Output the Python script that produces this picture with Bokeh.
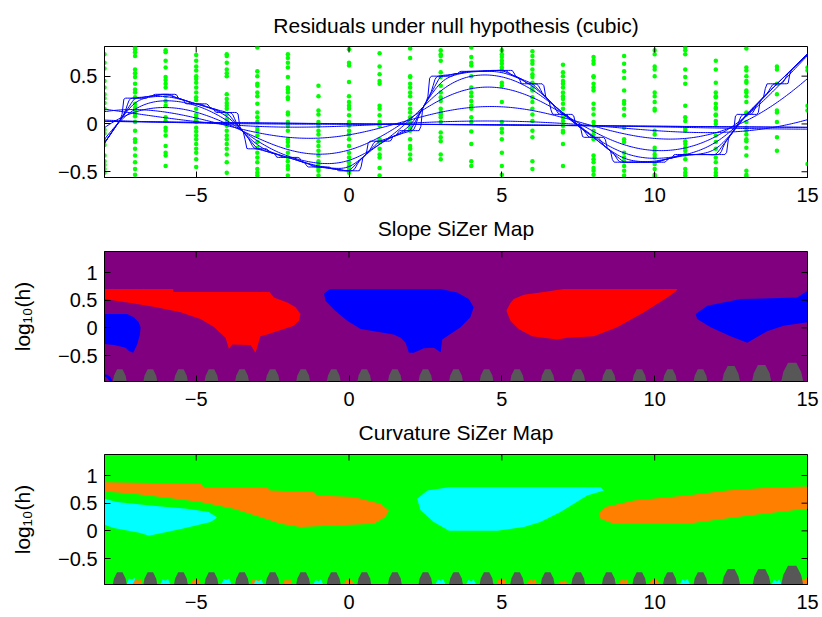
import numpy as np
from bokeh.plotting import figure
from bokeh.layouts import column
from bokeh.models import FixedTicker, CustomJSTickFormatter, Range1d, Title
from bokeh.embed import file_html
from bokeh.resources import INLINE

# ---------------- data ----------------
x_columns = list(range(-8, 16))

res_m8 = [0.73, 0.64, 0.58, 0.45, 0.38, 0.31, 0.27, 0.22, 0.16, -0.06, -0.10, -0.17, -0.22, -0.33, -0.39, -0.43, -0.47, -0.51]
res_m7 = [0.80, 0.78, 0.75, 0.71, 0.57, 0.53, 0.49, 0.42, 0.36, 0.33, 0.28, 0.21, 0.17, 0.14, 0.11, 0.08, 0.02, -0.07, -0.16, -0.19, -0.26, -0.33, -0.40, -0.47, -0.53]
res_m6 = [0.77, 0.75, 0.66, 0.59, 0.49, 0.46, 0.42, 0.38, 0.29, 0.24, 0.19, 0.07, 0.03, -0.04, -0.07, -0.12, -0.23, -0.30, -0.33, -0.44]
res_m5 = [0.72, 0.66, 0.60, 0.56, 0.50, 0.47, 0.43, 0.38, 0.33, 0.28, 0.25, 0.16, 0.10, 0.07, 0.04, 0.02, -0.04, -0.08, -0.12, -0.16, -0.21, -0.26, -0.30, -0.37, -0.45]
res_m4 = [0.73, 0.71, 0.64, 0.57, 0.53, 0.50, 0.31, 0.26, 0.22, 0.19, 0.16, 0.10, 0.05, 0.02, -0.02, -0.07, -0.12, -0.16, -0.21, -0.26, -0.32, -0.40, -0.51]
res_m3 = [0.80, 0.55, 0.50, 0.42, 0.40, 0.33, 0.29, 0.21, 0.12, 0.07, 0.02, -0.04, -0.07, -0.12, -0.19, -0.25, -0.30, -0.35, -0.40, -0.47, -0.51, -0.54]
res_m2 = [0.73, 0.69, 0.64, 0.59, 0.49, 0.38, 0.36, 0.33, 0.28, 0.26, 0.12, 0.10, 0.02, -0.02, -0.07, -0.16, -0.19, -0.23, -0.30, -0.35, -0.39, -0.44, -0.47, -0.54]
res_m1 = [0.40, 0.29, 0.14, 0.10, 0.02, -0.02, -0.07, -0.11, -0.18, -0.23, -0.28, -0.33, -0.39, -0.42, -0.46, -0.49, -0.54]
res_0 = [0.78, 0.64, 0.61, 0.44, 0.29, 0.23, 0.19, 0.16, 0.09, 0.02, -0.02, -0.07, -0.11, -0.16, -0.23, -0.30, -0.35, -0.40, -0.44, -0.47, -0.51]
res_p1 = [0.74, 0.60, 0.52, 0.45, 0.42, 0.19, 0.16, 0.09, 0.02, -0.02, -0.16, -0.19, -0.26, -0.32, -0.35, -0.46, -0.54]
res_p2 = [0.79, 0.69, 0.50, 0.49, 0.42, 0.38, 0.33, 0.29, 0.21, 0.16, 0.12, 0.07, 0.02, -0.02, -0.05, -0.07, -0.16, -0.23, -0.26, -0.32, -0.37]
res_p3 = [0.77, 0.73, 0.71, 0.66, 0.54, 0.49, 0.40, 0.33, 0.28, 0.24, 0.16, 0.12, 0.10, 0.07, 0.02, -0.09, -0.14, -0.18, -0.32, -0.37]
res_p4 = [0.80, 0.70, 0.64, 0.61, 0.50, 0.38, 0.33, 0.29, 0.24, 0.19, 0.16, 0.07, 0.02, -0.08, -0.21, -0.39, -0.44]
res_p5 = [0.77, 0.73, 0.70, 0.66, 0.63, 0.59, 0.56, 0.43, 0.40, 0.23, 0.02, -0.05, -0.09, -0.16, -0.30, -0.44, -0.53]
res_p6 = [0.76, 0.71, 0.66, 0.63, 0.57, 0.52, 0.49, 0.43, 0.38, 0.35, 0.28, 0.23, 0.16, 0.10, 0.03, -0.07, -0.14, -0.39, -0.47]
res_p7 = [0.62, 0.54, 0.50, 0.45, 0.42, 0.38, 0.33, 0.29, 0.26, 0.21, 0.16, 0.10, 0.07, 0.03, -0.02, -0.07, -0.09, -0.21, -0.44]
res_p8 = [0.70, 0.66, 0.63, 0.50, 0.49, 0.42, 0.38, 0.35, 0.21, 0.16, 0.10, 0.02, -0.02, -0.07, -0.11, -0.16, -0.33, -0.37, -0.40, -0.46, -0.49, -0.53]
res_p9 = [0.71, 0.63, 0.55, 0.48, 0.35, 0.24, 0.21, 0.16, 0.09, -0.04, -0.16, -0.19, -0.30, -0.35, -0.39, -0.44, -0.49, -0.54]
res_p10 = [0.77, 0.73, 0.60, 0.57, 0.50, 0.33, 0.29, 0.23, 0.16, 0.14, -0.07, -0.11, -0.25, -0.28, -0.32, -0.35, -0.42, -0.47, -0.53, -0.55]
res_p11 = [0.80, 0.77, 0.73, 0.57, 0.49, 0.42, 0.19, 0.07, 0.03, -0.05, -0.07, -0.18, -0.21, -0.25, -0.28, -0.32, -0.37, -0.47, -0.51, -0.54]
res_p12 = [0.66, 0.57, 0.43, 0.33, 0.29, 0.28, 0.21, 0.17, 0.16, 0.10, 0.09, 0.03, 0.00, -0.12, -0.19, -0.26, -0.35, -0.40, -0.47, -0.51, -0.54]
res_p13 = [0.79, 0.59, 0.56, 0.50, 0.45, 0.43, 0.35, 0.33, 0.29, 0.23, 0.12, 0.10, 0.02, -0.04, -0.07, -0.11, -0.16, -0.18, -0.25, -0.33, -0.49, -0.53, -0.55]
res_p14 = [0.60, 0.57, 0.42, 0.31, 0.14, 0.12, 0.02, -0.14, -0.28]
res_p15 = [0.59, 0.56, 0.19, 0.14, -0.42]

residual_columns = [res_m8, res_m7, res_m6, res_m5, res_m4, res_m3, res_m2, res_m1, res_0,
                    res_p1, res_p2, res_p3, res_p4, res_p5, res_p6, res_p7, res_p8, res_p9,
                    res_p10, res_p11, res_p12, res_p13, res_p14, res_p15]

# column means (levels of the least-smoothed curve)
step_means = [-0.20, 0.27, 0.31, 0.21, 0.12, -0.26, -0.35, -0.45, -0.49, -0.18, -0.07, 0.50,
              0.55, 0.56, 0.42, 0.10, -0.14, -0.40, -0.40, -0.32, -0.32, 0.10, 0.42, 0.73]
log10_h_min, log10_h_max, n_bandwidths = -0.94, 1.36, 11
n_grid_bins = 401

x_ticks = [-5, 0, 5, 10, 15]
top_y_ticks = [-0.5, 0, 0.5]
map_y_ticks = [-0.5, 0, 0.5, 1]

titles = ["Residuals under null hypothesis (cubic)", "Slope SiZer Map", "Curvature SiZer Map"]
y_label = "log\u2081\u2080(h)"

# Slope SiZer map regions (x, log10 h)
slope_red_a_x = [-8, -5.75, -5.75, -2.6, -2.46, -2.02, -1.75, -1.59, -1.64, -1.81, -2.13, -2.68, -2.9, -3.06, -3.22, -3.82, -3.93, -4.04, -4.43, -4.86, -5.51, -6.39, -7.04, -8]
slope_red_a_y = [0.70, 0.70, 0.65, 0.65, 0.55, 0.46, 0.37, 0.25, 0.13, 0.04, -0.02, -0.12, -0.15, -0.45, -0.31, -0.30, -0.38, -0.18, 0.02, 0.16, 0.28, 0.38, 0.44, 0.52]
slope_blue_a_x = [-8, -7.26, -7.04, -6.88, -6.82, -6.84, -6.93, -7.06, -7.2, -7.31, -7.69, -8]
slope_blue_a_y = [0.25, 0.25, 0.19, 0.10, 0.01, -0.12, -0.30, -0.45, -0.42, -0.36, -0.31, -0.29]
slope_blue_b_x = [-0.82, -0.62, 3.0, 3.54, 3.92, 4.08, 3.97, 3.65, 3.05, 3.0, 2.77, 2.45, 2.12, 1.96, 1.85, 1.69, 1.46, 0.38, -0.06, -0.5, -0.77]
slope_blue_b_y = [0.62, 0.70, 0.70, 0.64, 0.52, 0.37, 0.19, 0.01, -0.21, -0.44, -0.36, -0.37, -0.45, -0.45, -0.27, -0.18, -0.12, -0.02, 0.13, 0.33, 0.49]
slope_red_b_x = [5.15, 5.28, 5.39, 5.72, 6.26, 7.03, 10.74, 10.7, 10.41, 9.65, 8.77, 8.01, 7.14, 6.81, 5.99, 5.55, 5.28]
slope_red_b_y = [0.31, 0.45, 0.52, 0.60, 0.64, 0.70, 0.70, 0.66, 0.55, 0.28, 0.01, -0.15, -0.18, -0.21, -0.15, -0.02, 0.13]
slope_blue_c_x = [11.34, 11.72, 12.81, 14.66, 15, 15, 14.22, 13.68, 13.03, 12.48, 11.83, 11.39]
slope_blue_c_y = [0.25, 0.40, 0.52, 0.55, 0.67, 0.10, 0.04, -0.06, -0.27, -0.15, 0.01, 0.16]
slope_blue_corner_x = [-8, -7.9, -7.8, -7.74, -7.82, -7.92, -8]
slope_blue_corner_y = [-0.84, -0.85, -0.89, -0.97, -0.97, -0.9, -0.88]

# Curvature SiZer map regions
curv_orange_a_x = [-8, -4.86, -4.75, -2.68, -2.57, -1.15, -1.04, 0.16, 0.6, 1.03, 1.30, 1.19, 0.81, -1.59, -2.24, -2.90, -3.77, -4.86, -5.95, -7.04, -8]
curv_orange_a_y = [0.88, 0.85, 0.79, 0.79, 0.73, 0.70, 0.64, 0.61, 0.55, 0.49, 0.37, 0.25, 0.13, 0.07, 0.13, 0.25, 0.40, 0.52, 0.60, 0.67, 0.71]
curv_cyan_a_x = [-8, -7.59, -6.5, -5.3, -4.59, -4.31, -4.53, -5.46, -6.55, -6.82, -7.70, -8]
curv_cyan_a_y = [0.58, 0.52, 0.46, 0.40, 0.34, 0.24, 0.16, 0.04, -0.09, -0.04, 0.05, 0.11]
curv_cyan_b_x = [2.23, 2.56, 3.27, 8.23, 8.34, 7.79, 6.92, 6.26, 5.72, 4.85, 3.27, 2.77, 2.34]
curv_cyan_b_y = [0.58, 0.73, 0.79, 0.79, 0.73, 0.64, 0.34, 0.16, 0.07, 0.0, 0.0, 0.16, 0.37]
curv_orange_b_x = [8.17, 8.39, 9.32, 11.06, 12.37, 14.01, 15, 15, 14.55, 13.14, 11.06, 8.67, 8.23]
curv_orange_b_y = [0.31, 0.43, 0.55, 0.64, 0.73, 0.79, 0.80, 0.40, 0.37, 0.28, 0.13, 0.13, 0.22]

# small significant specks along the bottom of the curvature map
curv_speck_x = [-7.1, -6.9, -6.0, -5.0, -4.0, -3.05, -2.95, -2.0, -1.0, 0.0, 3.0, 4.0, 5.0, 6.0, 7.0, 9.0, 10.0, 11.0, 14.0, 14.9]
curv_speck_top = [-0.88, -0.9, -0.9, -0.9, -0.89, -0.9, -0.91, -0.9, -0.91, -0.9, -0.9, -0.91, -0.89, -0.9, -0.92, -0.9, -0.89, -0.9, -0.91, -0.88]
curv_speck_kind = ["cyan", "orange", "cyan", "orange", "cyan", "orange", "cyan", "orange", "cyan", "orange",
                   "cyan", "cyan", "orange", "orange", "orange", "orange", "orange", "cyan", "cyan", "orange"]

# low effective-sample-size (gray) gaps between design points
gap_centers = [-7.5, -6.5, -5.5, -4.5, -3.5, -2.5, -1.5, -0.5, 0.5, 1.5, 2.5, 3.5, 4.5, 5.5,
               6.5, 7.5, 8.5, 9.5, 10.5, 11.5, 12.5, 13.5, 14.5]
slope_gap_tops = [-0.75, -0.75, -0.75, -0.75, -0.75, -0.75, -0.75, -0.75, -0.75, -0.75, -0.75, -0.75,
                  -0.75, -0.75, -0.75, -0.75, -0.75, -0.75, -0.75, -0.75, -0.69, -0.67, -0.63]
curv_gap_tops = [-0.75, -0.75, -0.75, -0.75, -0.75, -0.75, -0.75, -0.75, -0.75, -0.75, -0.75, -0.75,
                 -0.75, -0.75, -0.75, -0.75, -0.75, -0.75, -0.75, -0.75, -0.69, -0.69, -0.63]

# ---------------- styling ----------------
FONT = "Liberation Sans"
TICK_SIZE = "20px"
TITLE_SIZE = "21px"
PURPLE, RED, BLUE = "#800080", "#FF0000", "#0000FF"
GREEN, ORANGE, CYAN = "#00FF00", "#FF8000", "#00FFFF"
GRAY = "#575757"
X_RANGE = (-8, 15)
MAP_RANGE = (-0.97, 1.38)
FRAME_W = 703
TICK_LEN = 6

minus_fmt = "return tick < 0 ? '\\u2212' + Math.abs(tick) : tick.toString();"


def make_fig(height, top, bottom, frame_h, y_range, y_ticks, bg="white", ylabel=None, below_title=None):
    p = figure(width=822, height=height, output_backend="svg", toolbar_location=None,
               x_range=Range1d(*X_RANGE), y_range=Range1d(*y_range),
               min_border_left=104, min_border_right=15, min_border_top=top,
               min_border_bottom=bottom)
    p.background_fill_color = bg
    p.border_fill_color = "white"
    p.outline_line_color = "black"
    p.grid.visible = False
    for ax, ticks in ((p.xaxis[0], x_ticks), (p.yaxis[0], y_ticks)):
        ax.ticker = FixedTicker(ticks=ticks)
        ax.formatter = CustomJSTickFormatter(code=minus_fmt)
        ax.major_tick_in = TICK_LEN
        ax.major_tick_out = 0
        ax.minor_tick_line_color = None
        ax.major_label_text_font = FONT
        ax.major_label_text_font_size = TICK_SIZE
        ax.major_label_text_color = "black"
        ax.axis_line_color = "black"
        ax.major_tick_line_color = "black"
    p.xaxis.major_label_standoff = 10
    p.yaxis.major_label_standoff = 7
    if ylabel:
        p.yaxis.axis_label = ylabel
        p.yaxis.axis_label_text_font = FONT
        p.yaxis.axis_label_text_font_size = "21px"
        p.yaxis.axis_label_text_font_style = "normal"
        p.yaxis.axis_label_text_color = "black"
        p.yaxis.axis_label_standoff = 21
    if below_title:
        # the next panel's title sits under this panel's tick labels
        p.xaxis.axis_label = below_title
        p.xaxis.axis_label_text_font = FONT
        p.xaxis.axis_label_text_font_size = TITLE_SIZE
        p.xaxis.axis_label_text_font_style = "normal"
        p.xaxis.axis_label_text_color = "black"
        p.xaxis.axis_label_standoff = 12
    return p


def add_box_ticks(p, y_range, frame_h, y_ticks):
    # inward ticks on the top and right edges of the box
    dy = TICK_LEN * (y_range[1] - y_range[0]) / frame_h
    dx = TICK_LEN * (X_RANGE[1] - X_RANGE[0]) / FRAME_W
    p.segment(x0=x_ticks, y0=[y_range[1]] * len(x_ticks), x1=x_ticks,
              y1=[y_range[1] - dy] * len(x_ticks), line_color="black", line_width=1)
    p.segment(x0=[X_RANGE[1]] * len(y_ticks), y0=y_ticks, x1=[X_RANGE[1] - dx] * len(y_ticks),
              y1=y_ticks, line_color="black", line_width=1)


# ---------------- top panel ----------------
TOP_RANGE = (-0.56, 0.81)
p1 = make_fig(248, 46, 71, 131, TOP_RANGE, top_y_ticks, below_title=titles[1])
top_title = Title(text=titles[0], align="center", vertical_align="bottom", standoff=19,
                  text_font=FONT, text_font_size=TITLE_SIZE, text_font_style="normal",
                  text_color="black")
top_title.text_line_height = 1.0
p1.add_layout(top_title, "above")

dot_x = [x for x, col in zip(x_columns, residual_columns) for _ in col]
dot_y = [v for col in residual_columns for v in col]
p1.scatter(dot_x, dot_y, size=4.5, color=GREEN, line_color=None)

# binned local linear smooths (Gaussian kernel) for a family of bandwidths
grid = np.linspace(X_RANGE[0], X_RANGE[1], n_grid_bins)
step = grid[1] - grid[0]
bin_n = np.zeros(n_grid_bins)
bin_sum = np.zeros(n_grid_bins)
for xv, col, m in zip(x_columns, residual_columns, step_means):
    pos = (xv - grid[0]) / step
    lo = int(np.floor(pos + 1e-9))
    fr = pos - lo
    if lo >= n_grid_bins - 1:
        lo, fr = n_grid_bins - 1, 0.0
    n = float(len(col))
    bin_n[lo] += n * (1 - fr)
    bin_sum[lo] += n * m * (1 - fr)
    if fr > 1e-9:
        bin_n[lo + 1] += n * fr
        bin_sum[lo + 1] += n * m * fr

d = grid[None, :] - grid[:, None]
for lh in np.linspace(log10_h_min, log10_h_max, n_bandwidths):
    h = 10.0 ** lh
    K = np.exp(-0.5 * (d / h) ** 2)
    s0 = K @ bin_n
    t0 = K @ bin_sum
    xbar = (K * d) @ bin_n / s0
    ybar = t0 / s0
    dc = d - xbar[:, None]
    sxx = (K * dc * dc) @ bin_n
    sxy = ((K * dc) @ bin_sum) - ybar * ((K * dc) @ bin_n)
    slope = np.where(sxx > 0, sxy / np.where(sxx > 0, sxx, 1.0), 0.0)
    est = ybar - slope * xbar
    p1.line(grid, est, line_color=BLUE, line_width=1)
add_box_ticks(p1, TOP_RANGE, 131, top_y_ticks)


# ---------------- maps ----------------
def add_gaps(p, tops):
    bottom = -1.05
    xs_list, ys_list = [], []
    for c, t in zip(gap_centers, tops):
        hgt = t - MAP_RANGE[0]
        hw = 1.15 * hgt
        xs_list.append([c - hw, c - 0.75 * hw, c - 0.35 * hw, c + 0.35 * hw, c + 0.75 * hw, c + hw])
        ys_list.append([bottom, MAP_RANGE[0] + 0.5 * hgt, t, t, MAP_RANGE[0] + 0.5 * hgt, bottom])
    p.patches(xs_list, ys_list, fill_color=GRAY, line_color=None)


p2 = make_fig(203, 3, 70, 130, MAP_RANGE, map_y_ticks, bg=PURPLE, ylabel=y_label, below_title=titles[2])
p2.patches([slope_red_a_x, slope_blue_a_x, slope_blue_b_x, slope_red_b_x, slope_blue_c_x, slope_blue_corner_x],
           [slope_red_a_y, slope_blue_a_y, slope_blue_b_y, slope_red_b_y, slope_blue_c_y, slope_blue_corner_y],
           fill_color=[RED, BLUE, BLUE, RED, BLUE, BLUE], line_color=None)
add_gaps(p2, slope_gap_tops)
add_box_ticks(p2, MAP_RANGE, 130, map_y_ticks)

p3 = make_fig(166, 3, 33, 130, MAP_RANGE, map_y_ticks, bg=GREEN, ylabel=y_label)
p3.patches([curv_orange_a_x, curv_cyan_a_x, curv_cyan_b_x, curv_orange_b_x],
           [curv_orange_a_y, curv_cyan_a_y, curv_cyan_b_y, curv_orange_b_y],
           fill_color=[ORANGE, CYAN, CYAN, ORANGE], line_color=None)
speck_xs, speck_ys = [], []
for c, t in zip(curv_speck_x, curv_speck_top):
    speck_xs.append([c - 0.2, c - 0.1, c, c + 0.08, c + 0.18])
    speck_ys.append([-1.0, t + 0.02, t, t + 0.03, -1.0])
p3.patches(speck_xs, speck_ys, fill_color=[CYAN if k == "cyan" else ORANGE for k in curv_speck_kind],
           line_color=None)
add_gaps(p3, curv_gap_tops)
add_box_ticks(p3, MAP_RANGE, 130, map_y_ticks)

layout = column(p1, p2, p3, spacing=0)
open("out.html", "w").write(file_html(layout, INLINE))
